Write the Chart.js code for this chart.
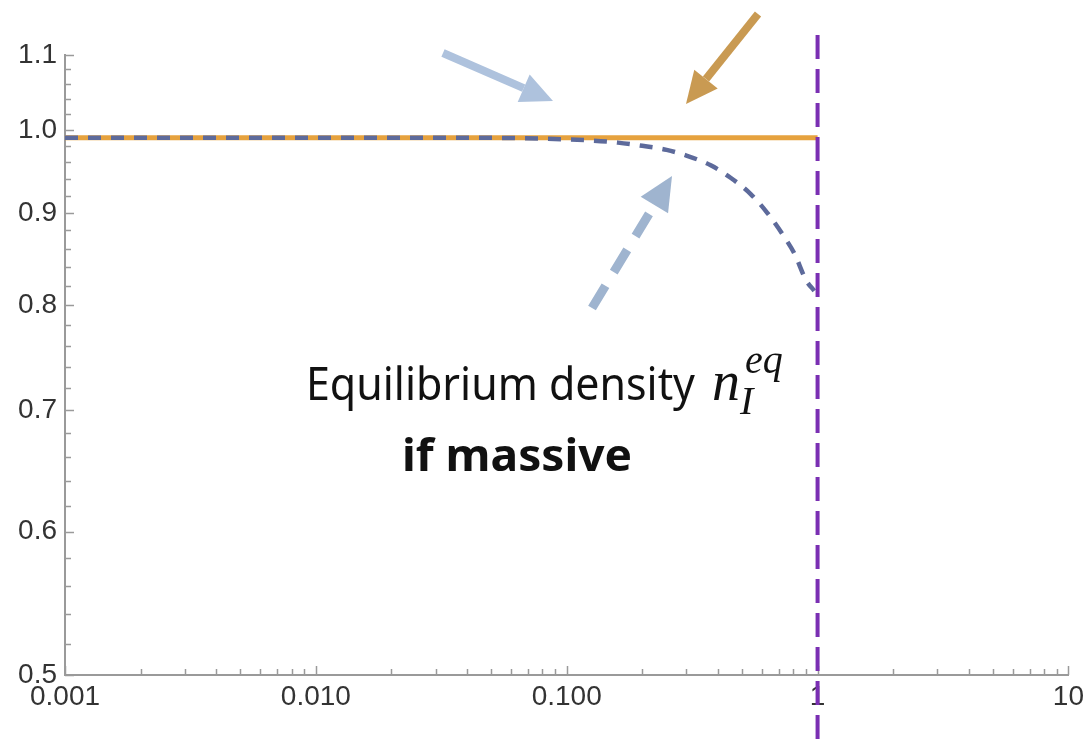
<!DOCTYPE html>
<html>
<head>
<meta charset="utf-8">
<style>
  html, body { margin: 0; padding: 0; background: #fff; }
  #wrap { position: relative; width: 1089px; height: 742px; }
</style>
</head>
<body>
<div id="wrap"><canvas id="chart" width="1089" height="742"></canvas></div>
<script src="https://cdn.jsdelivr.net/npm/chart.js"></script>
<script>
// ---- curves ----
const xMassless = [0.001, 0.01, 0.1, 1];
const nMassless = [0.99, 0.99, 0.99, 0.99];

const xMassive = [0.001, 0.01, 0.05, 0.08, 0.12, 0.16, 0.2, 0.25, 0.3, 0.375, 0.45, 0.54, 0.63, 0.74, 0.81, 0.9, 0.97];
const nMassive = [0.99, 0.99, 0.99, 0.989, 0.987, 0.984, 0.98, 0.975, 0.968, 0.956, 0.941, 0.922, 0.9, 0.872, 0.854, 0.826, 0.815];

const cutoffX = 1;

// ---- axis ticks ----
const xTickValues = [0.001, 0.01, 0.1, 1, 10];
const xTickLabels = ['0.001', '0.010', '0.100', '1', '10'];
const yTickValues = [0.5, 0.6, 0.7, 0.8, 0.9, 1.0, 1.1];
const yTickLabels = ['0.5', '0.6', '0.7', '0.8', '0.9', '1.0', '1.1'];

// minor ticks: 2..9 per decade on x, every 0.02 on y
const xAllTicks = [];
xTickValues.forEach((d, i) => {
  xAllTicks.push(d);
  if (i < xTickValues.length - 1) {
    for (let m = 2; m <= 9; m++) xAllTicks.push(+(m * d).toPrecision(6));
  }
});
const yAllTicks = [];
for (let k = 0; k <= 30; k++) yAllTicks.push(+(0.5 + 0.02 * k).toFixed(2));

function labelFor(values, labels, v) {
  const i = values.findIndex(t => Math.abs(Math.log(t / v)) < 1e-6);
  return i >= 0 ? labels[i] : '';
}

const toPoints = (xs, ys) => xs.map((x, i) => ({ x: x, y: ys[i] }));

// inward tick marks, cutoff line, arrows and caption
const overlay = {
  id: 'overlay',
  afterDraw(chart) {
    const ctx = chart.ctx;
    const xs = chart.scales.x, ys = chart.scales.y;
    const area = chart.chartArea;

    ctx.save();
    ctx.strokeStyle = '#9a9a9a';
    ctx.lineWidth = 1.5;
    xs.ticks.forEach(t => {
      const px = Math.round(xs.getPixelForValue(t.value)) + 0.5;
      const len = labelFor(xTickValues, xTickLabels, t.value) ? 9 : 6;
      ctx.beginPath();
      ctx.moveTo(px, area.bottom);
      ctx.lineTo(px, area.bottom - len);
      ctx.stroke();
    });
    ys.ticks.forEach(t => {
      const py = Math.round(ys.getPixelForValue(t.value)) + 0.5;
      const len = labelFor(yTickValues, yTickLabels, t.value) ? 9 : 6;
      ctx.beginPath();
      ctx.moveTo(area.left, py);
      ctx.lineTo(area.left + len, py);
      ctx.stroke();
    });
    ctx.restore();

    // vertical dashed line at x = 1
    const cx = xs.getPixelForValue(cutoffX);
    ctx.save();
    ctx.strokeStyle = '#7a2fb3';
    ctx.lineWidth = 4;
    ctx.setLineDash([24, 10]);
    ctx.beginPath();
    ctx.moveTo(cx, 35);
    ctx.lineTo(cx, chart.height);
    ctx.stroke();
    ctx.restore();

    drawArrow(ctx, 443, 53, 553, 101, '#aec2dd', 8, 32, 30, null);
    drawArrow(ctx, 758, 14, 686, 104, '#c99a52', 8, 32, 30, null);
    drawArrow(ctx, 592, 308, 672, 176, '#9fb4cf', 9, 34, 32, [26, 16]);

    // caption
    ctx.save();
    ctx.fillStyle = '#111';
    ctx.textBaseline = 'alphabetic';
    fitText(ctx, 'Equilibrium density', '46px "Noto Sans"', 306, 400, 389);
    ctx.font = 'italic 56px "Liberation Serif"';
    ctx.fillText('n', 712, 400);
    ctx.font = 'italic 40px "Liberation Serif"';
    ctx.fillText('eq', 745, 373);
    ctx.fillText('I', 740, 414);
    fitText(ctx, 'if massive', 'bold 45px "Noto Sans"', 402, 471, 230);
    ctx.restore();
  }
};

function fitText(ctx, text, font, x, y, width) {
  ctx.font = font;
  const w = ctx.measureText(text).width;
  ctx.save();
  ctx.translate(x, y);
  ctx.scale(width / w, 1);
  ctx.fillText(text, 0, 0);
  ctx.restore();
}

function drawArrow(ctx, x1, y1, x2, y2, color, shaft, headLen, headW, dash) {
  const ang = Math.atan2(y2 - y1, x2 - x1);
  const bx = x2 - headLen * Math.cos(ang);
  const by = y2 - headLen * Math.sin(ang);
  ctx.save();
  ctx.strokeStyle = color;
  ctx.fillStyle = color;
  ctx.lineWidth = shaft;
  if (dash) ctx.setLineDash(dash);
  ctx.beginPath();
  ctx.moveTo(x1, y1);
  ctx.lineTo(bx, by);
  ctx.stroke();
  ctx.setLineDash([]);
  const nx = -Math.sin(ang), ny = Math.cos(ang);
  ctx.beginPath();
  ctx.moveTo(x2, y2);
  ctx.lineTo(bx + nx * headW / 2, by + ny * headW / 2);
  ctx.lineTo(bx - nx * headW / 2, by - ny * headW / 2);
  ctx.closePath();
  ctx.fill();
  ctx.restore();
}

const tickFont = { family: '"Liberation Sans", Arial, sans-serif', size: 28 };

new Chart(document.getElementById('chart').getContext('2d'), {
  type: 'line',
  data: {
    datasets: [
      {
        label: 'massive',
        data: toPoints(xMassive, nMassive),
        borderColor: '#5d6a9b',
        borderWidth: 4.5,
        borderDash: [13, 10],
        pointRadius: 0,
        cubicInterpolationMode: 'monotone',
        order: 0
      },
      {
        label: 'massless',
        data: toPoints(xMassless, nMassless),
        borderColor: '#e6a23e',
        borderWidth: 5,
        pointRadius: 0,
        order: 1
      }
    ]
  },
  options: {
    responsive: false,
    animation: false,
    layout: { padding: { top: 55, right: 19, left: 0, bottom: 0 } },
    plugins: { legend: { display: false }, tooltip: { enabled: false } },
    scales: {
      x: {
        type: 'logarithmic',
        min: 0.001,
        max: 10,
        grid: { display: false, drawTicks: false },
        border: { display: true, color: '#9a9a9a', width: 2 },
        afterBuildTicks: s => { s.ticks = xAllTicks.map(v => ({ value: v })); },
        afterFit: s => { s.height = 67; },
        ticks: {
          autoSkip: false,
          maxRotation: 0,
          padding: 5,
          color: '#333',
          font: tickFont,
          callback: v => labelFor(xTickValues, xTickLabels, v)
        }
      },
      y: {
        type: 'logarithmic',
        min: 0.5,
        max: 1.1,
        grid: { display: false, drawTicks: false },
        border: { display: true, color: '#9a9a9a', width: 2 },
        afterBuildTicks: s => { s.ticks = yAllTicks.map(v => ({ value: v })); },
        afterFit: s => { s.width = 65; },
        ticks: {
          autoSkip: false,
          padding: 8,
          color: '#333',
          font: tickFont,
          callback: v => labelFor(yTickValues, yTickLabels, v)
        }
      }
    }
  },
  plugins: [overlay]
});
</script>
</body>
</html>
